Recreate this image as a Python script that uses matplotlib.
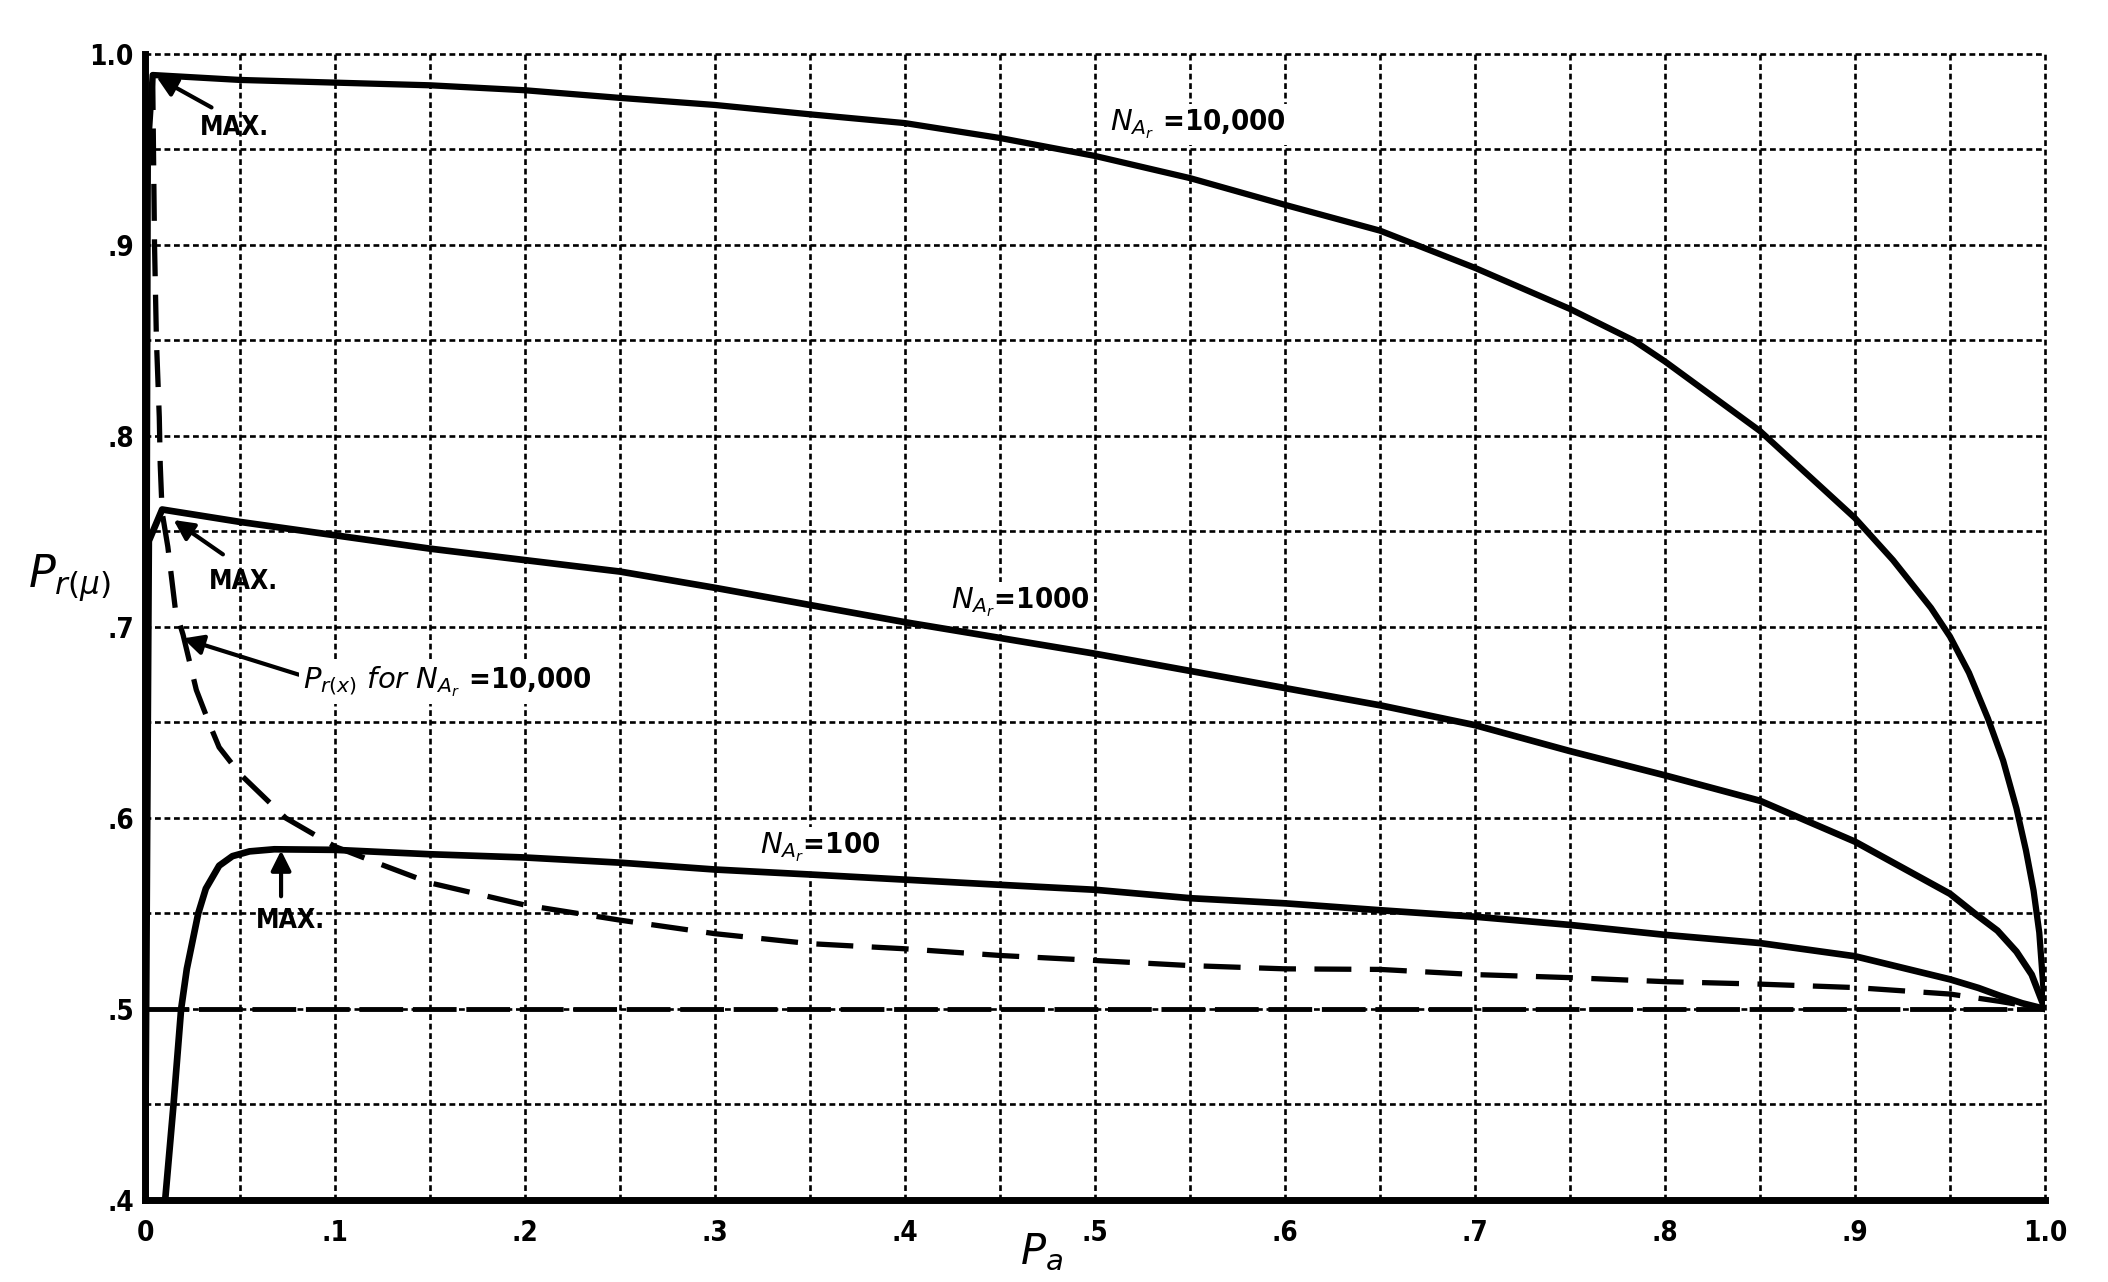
import numpy as np
import matplotlib.pyplot as plt

# ---- values (P_a on x, P_r(mu) on y) ----
pa_n10000 = [0.0, 0.0015, 0.004, 0.05, 0.1, 0.15, 0.2, 0.25, 0.3, 0.35, 0.4, 0.45, 0.5,
             0.55, 0.6, 0.65, 0.7, 0.75, 0.7835, 0.8, 0.85, 0.9, 0.92, 0.94, 0.95, 0.96, 0.97,
             0.978, 0.985, 0.99, 0.994, 0.997, 1.0]
pr_n10000 = [0.4, 0.95, 0.989, 0.9864, 0.985, 0.9836, 0.981, 0.977, 0.9733, 0.9684, 0.9638, 0.956, 0.9466,
             0.935, 0.921, 0.9075, 0.888, 0.8665, 0.85, 0.839, 0.8026, 0.757, 0.735, 0.71, 0.695, 0.676,
             0.652, 0.63, 0.605, 0.583, 0.562, 0.54, 0.5]

pa_n1000 = [0.0, 0.002, 0.009, 0.05, 0.1, 0.15, 0.2, 0.25, 0.3, 0.4, 0.5, 0.6, 0.65,
            0.7, 0.75, 0.8, 0.85, 0.9, 0.95, 0.963, 0.975, 0.985, 0.993, 1.0]
pr_n1000 = [0.4, 0.745, 0.7615, 0.755, 0.748, 0.741, 0.735, 0.729, 0.7205, 0.7025, 0.686, 0.668, 0.659,
            0.6486, 0.635, 0.6223, 0.609, 0.5876, 0.5603, 0.55, 0.541, 0.53, 0.518, 0.5]

pa_n100 = [0.0106, 0.015, 0.019, 0.022, 0.028, 0.032, 0.039, 0.046, 0.055, 0.068, 0.1, 0.15, 0.2,
           0.25, 0.3, 0.35, 0.4, 0.45, 0.5, 0.55, 0.6, 0.65, 0.7, 0.75, 0.8, 0.85, 0.9, 0.95, 0.965,
           0.976, 0.988, 1.0]
pr_n100 = [0.4, 0.45, 0.5, 0.521, 0.55, 0.563, 0.575, 0.58, 0.5825, 0.5836, 0.5833, 0.581, 0.5793,
           0.5766, 0.573, 0.5704, 0.5677, 0.565, 0.5624, 0.558, 0.5553, 0.5517, 0.5483, 0.544, 0.5388,
           0.5345, 0.5276, 0.5155, 0.511, 0.507, 0.503, 0.5]

# P_r(x) for N_Ar = 10,000 (dashed)
pa_prx = [0.004, 0.005, 0.006, 0.0075, 0.008, 0.009, 0.012, 0.016, 0.02, 0.027, 0.034, 0.039, 0.05,
          0.074, 0.1, 0.126, 0.15, 0.2, 0.25, 0.3, 0.35, 0.4, 0.45, 0.5, 0.55, 0.6, 0.65, 0.7, 0.75,
          0.8, 0.85, 0.9, 0.95, 0.976, 1.0]
pr_prx = [0.99, 0.9, 0.85, 0.81, 0.785, 0.76, 0.742, 0.709, 0.696, 0.667, 0.649, 0.637, 0.623,
          0.6, 0.585, 0.575, 0.566, 0.5544, 0.5465, 0.5394, 0.5342, 0.5315, 0.528, 0.5254, 0.5227,
          0.521, 0.5207, 0.518, 0.5164, 0.5143, 0.513, 0.5112, 0.5078, 0.504, 0.5]

pa_half = [0.0, 1.0]
pr_half = [0.5, 0.5]

xtick_vals = [0, .1, .2, .3, .4, .5, .6, .7, .8, .9, 1.0]
xtick_labels = ['0', '.1', '.2', '.3', '.4', '.5', '.6', '.7', '.8', '.9', '1.0']
ytick_vals = [.4, .5, .6, .7, .8, .9, 1.0]
ytick_labels = ['.4', '.5', '.6', '.7', '.8', '.9', '1.0']

lab_font = dict(family='DejaVu Sans', weight='bold', stretch='condensed')

fig = plt.figure(figsize=(21.08, 12.82), dpi=100)
ax = fig.add_axes([0.0688, 0.064, 0.9013, 0.8939])

# grid every .05, dotted
ax.set_xticks(np.arange(0, 1.001, 0.05), minor=True)
ax.set_yticks(np.arange(0.4, 1.001, 0.05), minor=True)
ax.grid(True, which='both', color='black', lw=1.9, linestyle=(0, (2.2, 1.4)))
ax.set_axisbelow(True)

# curves
ax.plot(pa_n10000, pr_n10000, color='black', lw=4.5, solid_capstyle='round', solid_joinstyle='round')
ax.plot(pa_n1000, pr_n1000, color='black', lw=4.8, solid_capstyle='round', solid_joinstyle='round')
ax.plot(pa_n100, pr_n100, color='black', lw=4.8, solid_capstyle='round', solid_joinstyle='round')
ax.plot(pa_prx, pr_prx, color='black', lw=3.8, dashes=(7, 3.5))
ax.plot(pa_half, pr_half, color='black', lw=3.5, dashes=(9, 2))

ax.set_xlim(0, 1.0)
ax.set_ylim(0.4, 1.0)
ax.set_xticks(xtick_vals)
ax.set_xticklabels(xtick_labels, **lab_font, fontsize=20)
ax.set_yticks(ytick_vals)
ax.set_yticklabels(ytick_labels, **lab_font, fontsize=20)
ax.tick_params(which='both', length=0)
ax.tick_params(axis='x', pad=14)
ax.tick_params(axis='y', pad=8)
for l in ax.get_xgridlines() + ax.get_ygridlines():
    l.set_clip_on(False)

ax.spines['top'].set_visible(False)
ax.spines['right'].set_visible(False)
ax.spines['left'].set_linewidth(5)
ax.spines['bottom'].set_linewidth(5)

# curve labels
box = dict(facecolor='white', edgecolor='none', pad=3)
ax.text(0.508, 0.963, r'$N_{A_r}$ =10,000', fontsize=21, va='center', ha='left', bbox=box, **lab_font)
ax.text(0.424, 0.7126, r'$N_{A_r}$=1000', fontsize=21, va='center', ha='left', bbox=box, **lab_font)
ax.text(0.3237, 0.5845, r'$N_{A_r}$=100', fontsize=21, va='center', ha='left', bbox=box, **lab_font)

# MAX. markers
arr = dict(arrowstyle='-|>', color='black', lw=3, mutation_scale=30, shrinkA=0, shrinkB=0)
ax.annotate('', xy=(0.006, 0.988), xytext=(0.035, 0.972), arrowprops=arr)
ax.text(0.047, 0.961, 'MAX.', fontsize=19, ha='center', va='center', **lab_font)
ax.annotate('', xy=(0.015, 0.756), xytext=(0.041, 0.738), arrowprops=arr)
ax.text(0.052, 0.7236, 'MAX.', fontsize=19, ha='center', va='center', **lab_font)
ax.annotate('', xy=(0.0716, 0.583), xytext=(0.0716, 0.559), arrowprops=arr)
ax.text(0.0765, 0.546, 'MAX.', fontsize=19, ha='center', va='center', **lab_font)

ax.annotate('', xy=(0.02, 0.694), xytext=(0.081, 0.675), arrowprops=arr)
ax.text(0.083, 0.671, r'$P_{r(x)}$ $for$ $N_{A_r}$ =10,000', fontsize=21, va='center', ha='left',
        bbox=box, **lab_font)

# axis titles
fig.text(0.033, 0.549, r'$P_{r(\mu)}$', fontsize=32, ha='center', va='center')
fig.text(0.494, 0.040, r'$P_a$', fontsize=30, ha='center', va='top')

fig.savefig('out.png', dpi=100, facecolor='white')
